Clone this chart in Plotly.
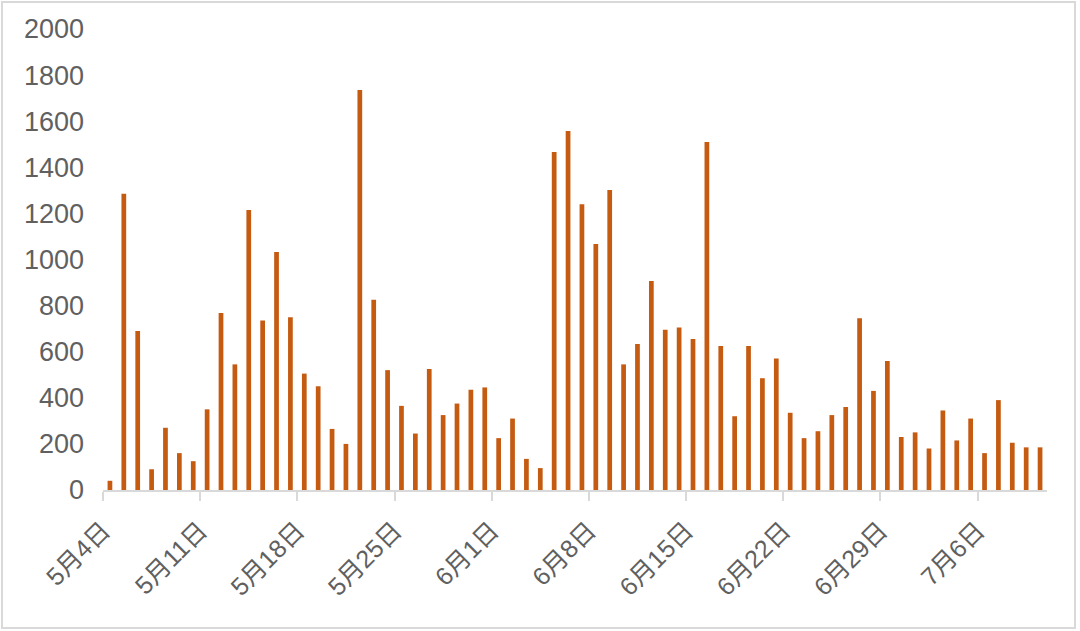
import plotly.graph_objects as go

# Daily values from 5月4日 to 7月10日
day_labels = (
    [f"5月{d}日" for d in range(4, 32)]
    + [f"6月{d}日" for d in range(1, 31)]
    + [f"7月{d}日" for d in range(1, 11)]
)
values = [
    40, 1285, 690, 90, 270, 160, 125, 350, 768, 545,
    1215, 735, 1032, 750, 505, 450, 265, 200, 1735, 825,
    520, 365, 245, 525, 325, 375, 435, 445, 225, 310,
    135, 95, 1466, 1557, 1240, 1067, 1301, 545, 633, 907,
    695, 705, 655, 1510, 625, 320, 625, 485, 570, 335,
    225, 255, 325, 360, 745, 430, 560, 230, 250, 180,
    345, 215, 310, 160, 390, 205, 185, 185,
]
tick_labels = ["5月4日", "5月11日", "5月18日", "5月25日", "6月1日",
               "6月8日", "6月15日", "6月22日", "6月29日", "7月6日"]
y_ticks = [0, 200, 400, 600, 800, 1000, 1200, 1400, 1600, 1800, 2000]

x_idx = list(range(len(values)))
tick_pos = [day_labels.index(t) - 0.5 for t in tick_labels]

FONT = "Liberation Sans, Arial, Noto Sans CJK SC, sans-serif"
GRAY = "#606060"
LINE = "#d9d9d9"

fig = go.Figure(
    go.Bar(
        x=x_idx,
        y=values,
        width=0.34,
        marker=dict(color="#C55A11", line=dict(width=0)),
        hovertext=day_labels,
    )
)

fig.update_layout(
    width=1080,
    height=631,
    margin=dict(l=103, r=33, t=29, b=141),
    paper_bgcolor="white",
    plot_bgcolor="white",
    showlegend=False,
    font=dict(family=FONT, color=GRAY, size=24),
    shapes=[
        dict(
            type="rect", xref="paper", yref="paper",
            x0=-101 / 944, x1=972 / 944, y0=(490 - 628) / 461, y1=488 / 461,
            line=dict(color=LINE, width=2), fillcolor="rgba(0,0,0,0)",
            layer="below",
        )
    ],
)

fig.update_xaxes(
    range=[-0.5, len(values) - 0.5],
    tickmode="array",
    tickvals=tick_pos,
    ticktext=tick_labels,
    tickangle=-45,
    showgrid=False,
    zeroline=False,
    showline=True,
    linecolor=LINE,
    linewidth=2,
    ticks="outside",
    ticklen=9,
    tickwidth=2,
    tickcolor=LINE,
    ticklabelstandoff=5,
    tickfont=dict(family=FONT, color=GRAY, size=25),
)

fig.update_yaxes(
    range=[0, 2000],
    tickmode="array",
    tickvals=y_ticks,
    ticktext=[str(v) for v in y_ticks],
    showgrid=False,
    zeroline=False,
    showline=False,
    ticks="",
    ticklabelstandoff=18,
    tickfont=dict(family=FONT, color=GRAY, size=27),
)

fig.write_html(
    "out.html",
    config={"displayModeBar": False},
    post_script="document.body.style.margin='0';document.body.style.overflow='hidden';",
)
